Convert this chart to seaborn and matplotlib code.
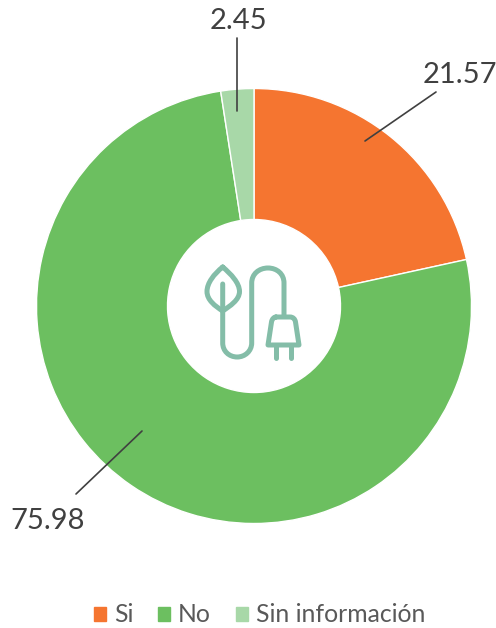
import matplotlib
matplotlib.use('Agg')
import matplotlib.pyplot as plt
import seaborn as sns
from matplotlib.patches import Patch, PathPatch
from matplotlib.path import Path

# data
categories = ['Si', 'No', 'Sin información']
values = [21.57, 75.98, 2.45]
colors = ['#F57530', '#6CBF60', '#A8D8A8']
icon_color = '#84BDA8'
text_color = '#404040'

sns.set_theme(style='white')
plt.rcParams['font.family'] = ['Lato', 'DejaVu Sans']

fig = plt.figure(figsize=(4.96, 6.28), dpi=100)
ax = fig.add_axes([0, 0, 1, 1])

# axes are in image pixels, y pointing down, so the pie runs clockwise from the top
wedges, _ = ax.pie(values, colors=colors, center=(254, 306), radius=217.5,
                   startangle=-90, counterclock=True,
                   wedgeprops={'width': 131, 'edgecolor': 'white', 'linewidth': 1})
ax.set_xlim(0, 496)
ax.set_ylim(628, 0)
ax.axis('off')

# leader lines and value labels
ax.plot([365, 436], [141, 92], color=text_color, lw=1.2)
ax.plot([237, 237], [111, 38], color=text_color, lw=1.2)
ax.plot([142, 76], [431, 494], color=text_color, lw=1.2)
label_pos = [(460, 75), (48, 521), (238, 21)]
for v, (x, y) in zip(values, label_pos):
    ax.text(x, y, f'{v:.2f}', fontsize=21, color=text_color, ha='center', va='center')

# plug and leaf icon in the hole
M, L, C = Path.MOVETO, Path.LINETO, Path.CURVE4


def stroke(verts, codes, lw=3.6):
    ax.add_patch(PathPatch(Path(verts, codes), fc='none', ec=icon_color, lw=lw,
                           capstyle='round', joinstyle='round'))


# leaf
stroke([(222.7, 267), (214, 274), (207, 283), (207, 291.5),
        (207, 300), (215, 306), (222.7, 311),
        (230, 306), (239.5, 300), (239.5, 291.5),
        (239.5, 283), (231, 274), (222.7, 267)],
       [M, C, C, C, C, C, C, C, C, C, C, C, C])
# cable
stroke([(222.7, 284), (222.7, 343),
        (222.7, 351), (229, 357), (237.2, 357),
        (245, 357), (251.7, 351), (251.7, 343),
        (251.7, 283),
        (251.7, 274), (259, 268), (268, 268),
        (277, 268), (284, 274), (284, 283),
        (284, 316)],
       [M, L, C, C, C, C, C, C, L, C, C, C, C, C, C, L])
# plug body
stroke([(276, 317), (290, 317),
        (293, 317), (295, 319), (295.5, 322),
        (299, 345), (268, 345), (271.5, 322),
        (272, 319), (274, 317), (276, 317)],
       [M, L, C, C, C, L, L, L, C, C, C])
# pins
stroke([(276, 345), (276, 357.5)], [M, L])
stroke([(290.7, 345), (290.7, 357.5)], [M, L])

handles = [Patch(color=c, label=n) for c, n in zip(colors, categories)]
ax.legend(handles=handles, loc='center', bbox_to_anchor=(259.5 / 496, 1 - 615 / 628), ncol=3,
          frameon=False, fontsize=17.8, labelcolor='#595959', handlelength=0.49, handleheight=0.49,
          handletextpad=0.33, columnspacing=0.99, borderpad=0)

fig.savefig('out.png', dpi=100)
